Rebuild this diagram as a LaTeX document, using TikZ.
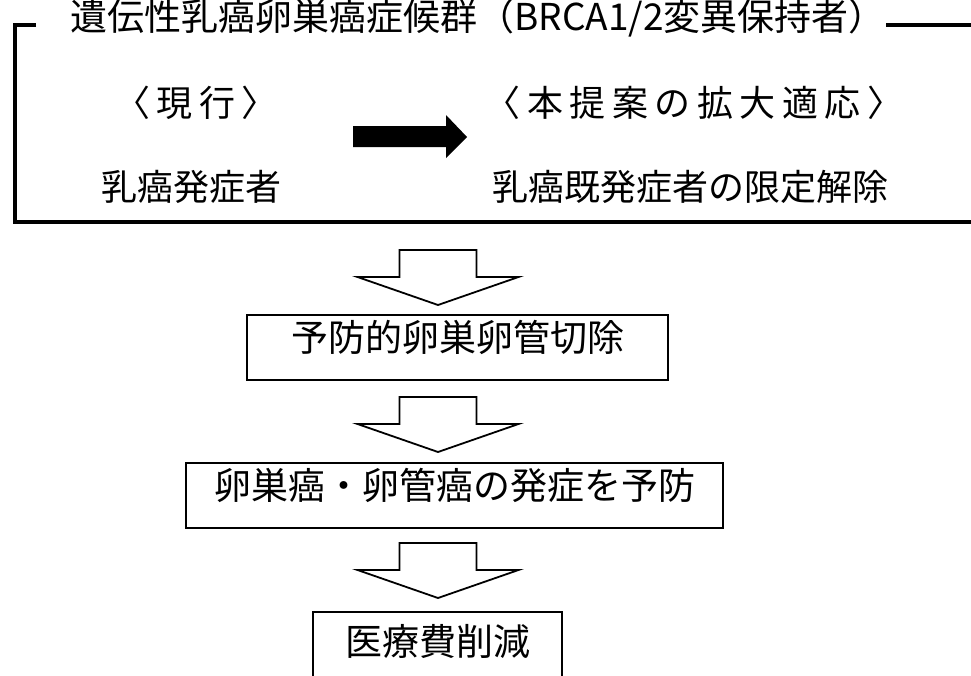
\documentclass[tikz,border=0pt]{standalone}
\usepackage{fontspec}
\setmainfont{Noto Sans CJK JP}
\newcommand\wc[1]{\makebox[42.5pt]{#1}}
\begin{document}
\begin{tikzpicture}[x=1pt,y=-1pt,
  txt/.style={inner sep=0pt, font=\fontsize{36}{40}\selectfont, text height=0.84em, text depth=0.08em},
  box/.style={draw, line width=2.5pt, inner sep=0pt, font=\fontsize{37}{40}\selectfont, text height=0.84em, text depth=0.08em},
  framestyle/.style={line width=4pt},
  hollow/.style={draw, line width=1.8pt, fill=white, line join=miter},
  downarrow/.pic={\path[hollow] (-38.5,0) -- (38.5,0) -- (38.5,27) -- (80.5,27) -- (0,55) -- (-80.5,27) -- (-38.5,27) -- cycle;}]
\useasboundingbox (0,0) rectangle (971,675);
\clip (0,0) rectangle (971,675);
\fill[white] (0,0) rectangle (971,675);

% frame
\draw[framestyle] (36,24.5) -- (15,24.5) -- (15,222) -- (975,222);
\draw[framestyle] (886,24.5) -- (975,24.5);

% texts in frame
\node[txt, anchor=west, font=\fontsize{37}{40}\selectfont] (title) at (70,27) {遺伝性乳癌卵巣癌症候群（BRCA1/2変異保持者）};
\node[txt] (cur) at (196,113) {\wc{〈}\wc{現}\wc{行}\wc{〉}};
\node[txt] (curtxt) at (191,197) {乳癌発症者};
\node[txt] (prop) at (694,113) {\wc{〈}\wc{本}\wc{提}\wc{案}\wc{の}\wc{拡}\wc{大}\wc{適}\wc{応}\wc{〉}};
\node[txt] (proptxt) at (690.5,197) {乳癌既発症者の限定解除};

% black arrow from current to proposed
\fill (353,126) -- (446,126) -- (446,115) -- (467,137) -- (446,158) -- (446,147) -- (353,147) -- cycle;

% boxes
\node[box, minimum width=421, minimum height=65] (b1) at (457.5,347.5) {予防的卵巣卵管切除};
\node[box, minimum width=537, minimum height=65] (b2) at (454.5,495.5) {卵巣癌・卵管癌の発症を予防};
\node[box, minimum width=249, minimum height=80] (b3) at (437.5,652) {医療費削減};

% hollow arrows
\pic at (438,250) {downarrow};
\pic at (438,397) {downarrow};
\pic at (438,543) {downarrow};
\end{tikzpicture}
\end{document}
